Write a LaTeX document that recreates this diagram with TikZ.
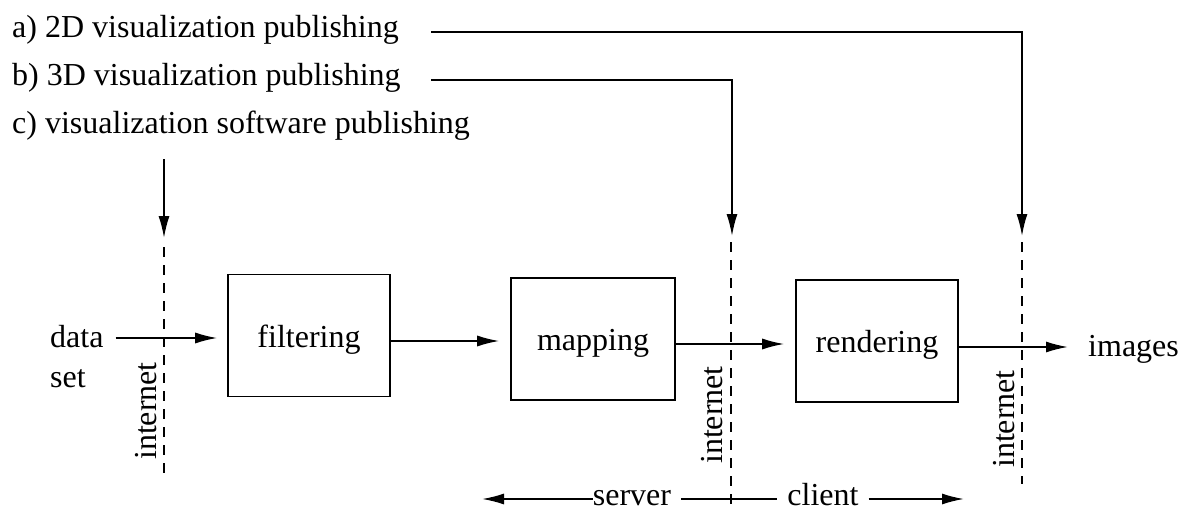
\documentclass[tikz,border=0pt]{standalone}
\usepackage{fontspec}
\setmainfont{Liberation Serif}
\usetikzlibrary{arrows.meta}
\begin{document}
\begin{tikzpicture}[x=1pt,y=-1pt,
  every node/.style={font=\fontsize{32}{38}\selectfont, inner sep=0pt},
  ln/.style={line width=1.6pt},
  arr/.style={ln, -{Latex[length=22pt,width=11pt]}},
  dsh/.style={line width=1.6pt, dash pattern=on 10pt off 8pt},
  procbox/.style={draw, line width=1.6pt, minimum height=122pt, text height=23pt, text depth=0pt},
  netlabel/.style={rotate=90}]
\useasboundingbox (0,0) rectangle (1187,511);

% publishing labels
\node[anchor=base west] (ta) at (12,38) {a) 2D visualization publishing};
\node[anchor=base west] (tb) at (12,85) {b) 3D visualization publishing};
\node[anchor=base west] (tc) at (12,133) {c) visualization software publishing};

% coordinates of the routing lines
\coordinate (a0) at (431,32);
\coordinate (a1) at (1022,32);
\coordinate (a2) at (1022,236);
\coordinate (b0) at (431,80);
\coordinate (b1) at (732,80);
\coordinate (b2) at (732,236);
\coordinate (c0) at (164,159);
\coordinate (c2) at (164,238);

\draw[arr] (a0) -- (a1) -- (a2);
\draw[arr] (b0) -- (b1) -- (b2);
\draw[arr] (c0) -- (c2);

% dashed internet lines
\coordinate (dL1) at (164,247);
\coordinate (dL2) at (164,478);
\coordinate (dM1) at (731,242);
\coordinate (dM2) at (731,511);
\coordinate (dR1) at (1022,242);
\coordinate (dR2) at (1022,484);
\draw[dsh] (dL1) -- (dL2);
\draw[dsh] (dM1) -- (dM2);
\draw[dsh] (dR1) -- (dR2);

\node[netlabel] (nL) at (146,411) {internet};
\node[netlabel] (nM) at (712,415) {internet};
\node[netlabel] (nR) at (1004,419) {internet};

% process boxes
\node[procbox, minimum width=162pt] (filt) at (309,335.5) {filtering};
\node[procbox, minimum width=164pt] (map) at (593,339) {mapping};
\node[procbox, minimum width=162pt] (rend) at (877,341) {rendering};

% data set and images
\node[anchor=base west] (data) at (50,347) {data};
\node[anchor=base west] (set) at (50,387) {set};
\node[anchor=base west] (img) at (1088,356) {images};

\draw[arr, shorten <=12pt, shorten >=10pt] ([yshift=-2.5pt]data.east |- filt.west) -- ([yshift=-2.5pt]filt.west);
\draw[arr, shorten >=11pt] ([yshift=-5.5pt]filt.east) -- ([yshift=-5.5pt]filt.east -| map.west);
\draw[arr, shorten >=11pt] ([yshift=-5pt]map.east) -- ([yshift=-5pt]map.east -| rend.west);
\draw[arr, shorten >=20pt] ([yshift=-6pt]rend.east) -- ([yshift=-6pt]rend.east -| img.west);

% server / client
\node[anchor=base] (server) at (632,505) {server};
\node[anchor=base] (client) at (823,505) {client};
\coordinate (sL) at (482,499);
\coordinate (sR) at (964,499);
\draw[arr] (sL -| server.west) -- (sL);
\draw[ln, shorten <=10pt, shorten >=10pt] (sL -| server.east) -- (sL -| client.west);
\draw[arr, shorten <=10pt] (sL -| client.east) -- (sR);
\end{tikzpicture}
\end{document}
